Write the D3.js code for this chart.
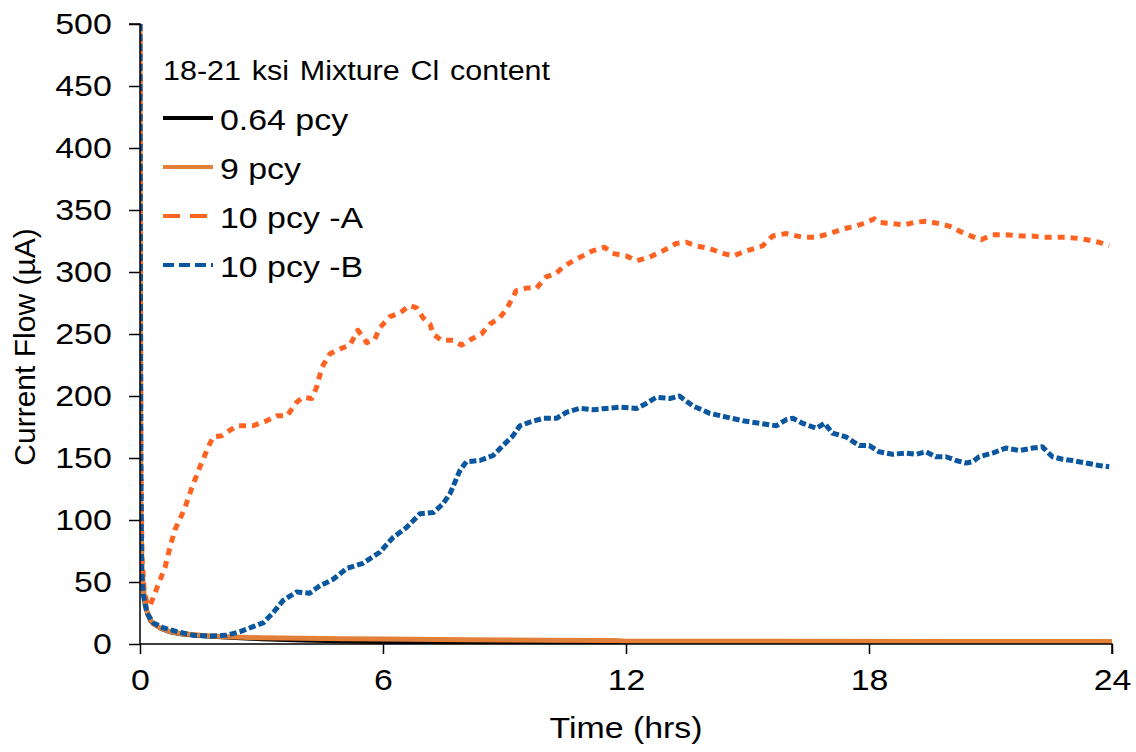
<!DOCTYPE html>
<html>
<head>
<meta charset="utf-8">
<script src="https://cdn.jsdelivr.net/npm/d3@7"></script>
<style>
  body { margin: 0; background: #fff; }
  text { font-family: "Liberation Sans", Arial, sans-serif; fill: #000; }
</style>
</head>
<body>
<div id="chart"></div>
<script>
// [time (hrs), current (uA)]
const pcy064 = [[0,500],[0.02,100],[0.05,50],[0.1,33],[0.17,24],[0.25,18],[0.5,12],[0.75,9],[1,7.5],[1.5,6],[2,5],[3,3.5],[4,2.5],[5,1.8],[6,1.3],[8,1],[12,0.8],[24,0.6]];
const pcy9 = [[0,500],[0.02,120],[0.05,60],[0.1,40],[0.17,27],[0.25,20],[0.33,16],[0.5,13],[0.75,10],[1,8.5],[1.5,7],[2,6],[3,5],[4,4.6],[5,4.2],[6,4],[8,3.4],[10,3],[11.7,2.8],[12,2.3],[16,2.2],[20,2],[24,2]];
const pcy10A = [[0,500],[0.02,150],[0.05,70],[0.1,45],[0.17,33],[0.25,31],[0.45,48],[0.62,62],[0.74,78],[0.86,92],[0.99,101],[1.11,110],[1.28,126],[1.48,143],[1.65,156],[1.8,167],[2.02,168],[2.39,176],[2.79,176],[3.13,180],[3.38,184],[3.63,184],[3.87,195],[4.02,199],[4.24,198],[4.36,207],[4.49,223],[4.69,234],[4.94,238],[5.18,241],[5.38,253],[5.6,243],[5.8,246],[5.92,255],[6.17,264],[6.42,267],[6.66,273],[6.83,271],[6.99,263],[7.16,258],[7.24,250],[7.44,245],[7.73,245],[7.94,241],[8.19,246],[8.43,250],[8.64,258],[8.88,263],[9.05,270],[9.29,285],[9.54,287],[9.79,287],[10.03,296],[10.28,299],[10.44,304],[10.7,309],[10.93,313],[11.17,317],[11.47,320],[11.67,315],[12.0,313],[12.26,309],[12.58,312],[12.91,317],[13.24,323],[13.49,324],[13.74,321],[14.06,319],[14.39,315],[14.64,313],[14.97,317],[15.37,321],[15.62,329],[15.95,331],[16.36,328],[16.7,328],[17.02,331],[17.39,335],[17.68,337],[17.93,340],[18.13,343],[18.25,340],[18.58,339],[18.87,338],[19.12,340],[19.41,341],[19.73,339],[19.98,337],[20.23,333],[20.52,329],[20.77,326],[21.04,330],[21.38,330],[21.78,329],[22.03,329],[22.27,328],[22.61,328],[22.87,328],[23.19,327],[23.38,326],[23.68,324],[23.93,321]];
const pcy10B = [[0,500],[0.02,150],[0.04,60],[0.08,40],[0.17,25],[0.33,17],[0.58,13],[0.91,10],[1.32,7],[1.73,6.4],[2.14,7],[2.47,10],[2.79,14],[3.04,17],[3.28,25],[3.53,35],[3.87,42],[4.19,41],[4.44,47],[4.76,52],[5.11,61],[5.5,65],[5.92,74],[6.25,86],[6.58,94],[6.91,105],[7.24,106],[7.48,113],[7.65,121],[7.77,130],[7.9,140],[8.06,147],[8.39,148],[8.72,152],[8.96,160],[9.21,168],[9.38,176],[9.63,179],[9.96,182],[10.28,182],[10.54,187],[10.86,190],[11.19,189],[11.52,190],[11.85,191],[12.26,190],[12.5,194],[12.75,199],[13.08,198],[13.32,200],[13.65,192],[14.07,186],[14.48,183],[14.89,180],[15.3,178],[15.71,176],[15.96,181],[16.12,182],[16.36,178],[16.7,174],[16.9,178],[17.1,170],[17.43,167],[17.76,160],[18.01,160],[18.25,155],[18.58,153],[18.91,154],[19.16,153],[19.41,155],[19.65,151],[19.9,151],[20.15,148],[20.4,146],[20.56,147],[20.72,151],[21.05,154],[21.38,158],[21.71,156],[22.04,158],[22.28,159],[22.53,151],[22.78,149],[23.02,148],[23.35,146],[23.68,144],[23.93,143]];

const xTicks = [0, 6, 12, 18, 24];
const yTicks = [0, 50, 100, 150, 200, 250, 300, 350, 400, 450, 500];
const legendTitle = '18-21 ksi Mixture Cl content';

const series = [
  { name: '0.64 pcy', values: pcy064, color: '#000000', dash: null, legendDash: null, width: 3 },
  { name: '9 pcy', values: pcy9, color: '#E2803A', dash: null, legendDash: null, width: 5 },
  { name: '10 pcy -A', values: pcy10A, color: '#FF6322', dash: '7,6', legendDash: '17,10', width: 5 },
  { name: '10 pcy -B', values: pcy10B, color: '#0A57A0', dash: '7,3', legendDash: '11,5', width: 5 }
];

const W = 1136, H = 752;
const margin = { top: 24, right: 24, bottom: 108, left: 140 };
const width = W - margin.left - margin.right;
const height = H - margin.top - margin.bottom;
const sx = 'scale(1.13,1)';

const svg = d3.select('#chart').append('svg')
  .attr('width', W).attr('height', H);

const g = svg.append('g')
  .attr('transform', `translate(${margin.left},${margin.top})`);

const x = d3.scaleLinear().domain([0, 24]).range([0, width]);
const y = d3.scaleLinear().domain([0, 500]).range([height, 0]);

g.append('clipPath').attr('id', 'clip')
  .append('rect').attr('x', 0).attr('y', -3).attr('width', width + 5).attr('height', height + 3);

const line = d3.line().x(d => x(d[0])).y(d => y(d[1]));

const lines = g.append('g').attr('clip-path', 'url(#clip)');
series.forEach(s => {
  lines.append('path')
    .datum(s.values)
    .attr('fill', 'none')
    .attr('stroke', s.color)
    .attr('stroke-width', s.width)
    .attr('stroke-linejoin', 'round')
    .attr('stroke-dasharray', s.dash)
    .attr('d', line);
});

// axes
const yAxis = g.append('g')
  .call(d3.axisLeft(y).tickValues(yTicks).tickSize(11).tickPadding(0).tickFormat(d3.format('d')));
yAxis.selectAll('text')
  .attr('x', -25)
  .attr('transform', sx)
  .style('font-size', '30px');

const xAxis = g.append('g')
  .attr('transform', `translate(0,${height})`)
  .call(d3.axisBottom(x).tickValues(xTicks).tickSize(10).tickPadding(0).tickFormat(d3.format('d')));
xAxis.selectAll('text')
  .attr('y', 25)
  .attr('transform', sx)
  .style('font-size', '30px');

[yAxis, xAxis].forEach(a => {
  a.select('.domain').attr('stroke', '#000').attr('stroke-width', 1.5);
  a.selectAll('.tick line').attr('stroke', '#000').attr('stroke-width', 1.5);
});
yAxis.select('.domain').attr('d', `M-11,0H0V${height}`);
xAxis.select('.domain').attr('d', `M0,0H${width}V10`);

// axis titles
svg.append('text')
  .attr('transform', `translate(${margin.left + width / 2},738) ${sx}`)
  .attr('text-anchor', 'middle')
  .style('font-size', '30px')
  .text('Time (hrs)');

svg.append('text')
  .attr('transform', `translate(35,347) rotate(-90)`)
  .attr('text-anchor', 'middle')
  .style('font-size', '30px')
  .text('Current Flow (\u00b5A)');

// legend
const lg = svg.append('g').attr('transform', 'translate(163,80)');
lg.append('text')
  .attr('transform', sx)
  .style('font-size', '27px')
  .style('word-spacing', '2px')
  .text(legendTitle);

series.forEach((s, i) => {
  const row = lg.append('g').attr('transform', `translate(0,${50 + i * 49})`);
  row.append('line')
    .attr('x1', 0).attr('x2', 50)
    .attr('y1', -12).attr('y2', -12)
    .attr('stroke', s.color)
    .attr('stroke-width', 4)
    .attr('stroke-dasharray', s.legendDash);
  row.append('text')
    .attr('x', 57 / 1.13)
    .attr('transform', sx)
    .style('font-size', '30px')
    .text(s.name);
});
</script>
</body>
</html>
